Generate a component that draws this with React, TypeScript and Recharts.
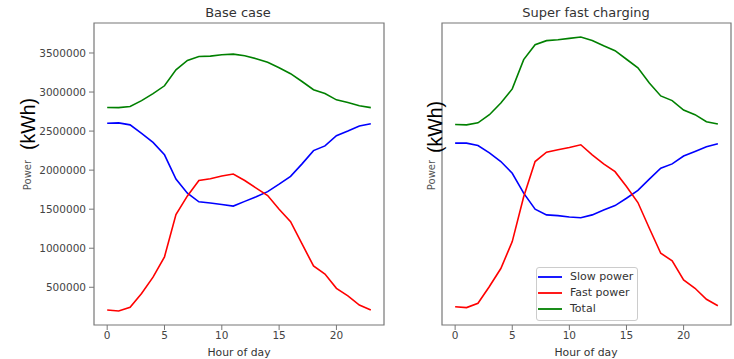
import { LineChart, Line, XAxis, YAxis, ReferenceArea, Legend } from 'recharts';

// hours 0..23
const hours = [0, 1, 2, 3, 4, 5, 6, 7, 8, 9, 10, 11, 12, 13, 14, 15, 16, 17, 18, 19, 20, 21, 22, 23];

// Base case (kWh)
const baseSlow = [
  2600000, 2605000, 2580000, 2470000, 2355000, 2196000, 1885000, 1705000, 1594000, 1580000, 1560000, 1540000,
  1600000, 1660000, 1725000, 1820000, 1920000, 2080000, 2250000, 2310000, 2440000, 2500000, 2565000, 2595000,
];
const baseFast = [
  209000, 196000, 245000, 420000, 630000, 890000, 1430000, 1670000, 1867000, 1890000, 1925000, 1950000,
  1867000, 1770000, 1675000, 1500000, 1340000, 1055000, 773000, 670000, 487000, 390000, 273000, 210000,
];
const baseTotal = [
  2802000, 2800000, 2815000, 2890000, 2980000, 3080000, 3285000, 3405000, 3455000, 3460000, 3478000, 3485000,
  3465000, 3427000, 3380000, 3310000, 3235000, 3135000, 3030000, 2980000, 2900000, 2867000, 2825000, 2800000,
];

// Super fast charging (kWh)
const superSlow = [
  2346000, 2346000, 2315000, 2220000, 2110000, 1960000, 1705000, 1500000, 1427000, 1418000, 1400000, 1390000,
  1427000, 1490000, 1546000, 1640000, 1740000, 1885000, 2025000, 2080000, 2180000, 2240000, 2300000, 2337000,
];
const superFast = [
  250000, 240000, 295000, 510000, 740000, 1085000, 1660000, 2110000, 2230000, 2260000, 2290000, 2325000,
  2196000, 2080000, 1980000, 1790000, 1585000, 1256000, 936000, 840000, 594000, 487000, 346000, 264000,
];
const superTotal = [
  2585000, 2580000, 2606000, 2710000, 2860000, 3040000, 3415000, 3606000, 3658000, 3670000, 3687000, 3705000,
  3660000, 3593000, 3530000, 3420000, 3310000, 3115000, 2950000, 2890000, 2770000, 2710000, 2620000, 2590000,
];

const seriesNames = ['Slow power', 'Fast power', 'Total'];
const xTicks = [0, 5, 10, 15, 20];
const yTicks = [500000, 1000000, 1500000, 2000000, 2500000, 3000000, 3500000];

const X_DOMAIN: [number, number] = [-1.15, 24.15];
const Y_DOMAIN: [number, number] = [17000, 3884000];

const FONT = '"DejaVu Sans", sans-serif';
const FRAME = '#777';
const TICK_TEXT = '#444';

const baseData = hours.map((h, i) => ({ hour: h, slow: baseSlow[i], fast: baseFast[i], total: baseTotal[i] }));
const superData = hours.map((h, i) => ({ hour: h, slow: superSlow[i], fast: superFast[i], total: superTotal[i] }));

function LegendBox(props: any) {
  // keep the plotting order, not alphabetical
  const payload = [...(props.payload || [])].sort(
    (a: any, b: any) => seriesNames.indexOf(a.value) - seriesNames.indexOf(b.value)
  );
  return (
    <div
      style={{
        border: '1px solid #ccc',
        borderRadius: 3,
        background: 'rgba(255,255,255,0.8)',
        padding: '1px 4px 3px 1px',
        fontFamily: FONT,
        fontSize: 11,
        color: '#333',
      }}
    >
      {payload.map((p: any) => (
        <div key={p.value} style={{ display: 'flex', alignItems: 'center', height: 16, lineHeight: '16px' }}>
          <svg width={24} height={16} style={{ marginRight: 8 }}>
            <line x1={0} y1={8} x2={24} y2={8} stroke={p.color} strokeWidth={1.8} />
          </svg>
          <span>{p.value}</span>
        </div>
      ))}
    </div>
  );
}

function Panel({ data, left, width, axisWidth, right, showLabels, showLegend }: any) {
  return (
    <div style={{ position: 'absolute', left, top: 0 }}>
      <LineChart width={width} height={359} data={data} margin={{ top: 23, right, bottom: 0, left: 0 }}>
        <XAxis
          dataKey="hour"
          type="number"
          domain={X_DOMAIN}
          ticks={xTicks}
          allowDataOverflow
          height={34}
          axisLine={false}
          tickSize={5}
          tickMargin={2}
          tickLine={{ stroke: FRAME }}
          tick={{ fontSize: 10.5, fill: TICK_TEXT, fontFamily: FONT }}
        />
        <YAxis
          type="number"
          domain={Y_DOMAIN}
          ticks={yTicks}
          allowDataOverflow
          width={axisWidth}
          axisLine={false}
          tickSize={5}
          tickMargin={3}
          tickLine={{ stroke: FRAME }}
          tick={showLabels ? { fontSize: 10.5, fill: TICK_TEXT, fontFamily: FONT } : false}
        />
        <ReferenceArea
          x1={X_DOMAIN[0]}
          x2={X_DOMAIN[1]}
          y1={Y_DOMAIN[0]}
          y2={Y_DOMAIN[1]}
          fill="none"
          stroke={FRAME}
          strokeWidth={1.2}
        />
        <Line type="linear" dataKey="slow" name={seriesNames[0]} stroke="#0000ff" strokeWidth={1.6} dot={false} isAnimationActive={false} />
        <Line type="linear" dataKey="fast" name={seriesNames[1]} stroke="#ff0000" strokeWidth={1.6} dot={false} isAnimationActive={false} />
        <Line type="linear" dataKey="total" name={seriesNames[2]} stroke="#008000" strokeWidth={1.6} dot={false} isAnimationActive={false} />
        {showLegend && (
          <Legend
            layout="vertical"
            align="center"
            verticalAlign="middle"
            content={<LegendBox />}
            wrapperStyle={{ position: 'absolute', left: 166, top: 267, width: 'auto' }}
          />
        )}
      </LineChart>
    </div>
  );
}

export default function App() {
  return (
    <div style={{ position: 'absolute', left: 0, top: 0, width: 734, height: 359, background: '#fff' }}>
      <Panel data={baseData} left={0} width={390} axisWidth={94} right={6} showLabels showLegend={false} />
      <Panel data={superData} left={370} width={364} axisWidth={72} right={3} showLabels={false} showLegend />
      <svg width={734} height={359} style={{ position: 'absolute', left: 0, top: 0, pointerEvents: 'none' }}>
        <g fontFamily={FONT} fill="#333">
          <text x={238} y={12.5} fontSize={13} textAnchor="middle" dominantBaseline="central">Base case</text>
          <text x={586} y={12.5} fontSize={13} textAnchor="middle" dominantBaseline="central">Super fast charging</text>
          <text x={239} y={352.5} fontSize={10.8} textAnchor="middle" dominantBaseline="central">Hour of day</text>
          <text x={586} y={352.5} fontSize={10.8} textAnchor="middle" dominantBaseline="central">Hour of day</text>
          <text x={27} y={175} fontSize={10} fill="#555" textAnchor="middle" dominantBaseline="central" transform="rotate(-90 27 175)">Power</text>
          <text x={431} y={175} fontSize={10} fill="#555" textAnchor="middle" dominantBaseline="central" transform="rotate(-90 431 175)">Power</text>
        </g>
        <g fontFamily='"Liberation Sans", Arial, sans-serif' fill="#000">
          <text x={28} y={124} fontSize={19.5} textAnchor="middle" dominantBaseline="central" transform="rotate(-90 28 124)">(kWh)</text>
          <text x={435} y={127} fontSize={19.5} textAnchor="middle" dominantBaseline="central" transform="rotate(-90 435 127)">(kWh)</text>
        </g>
      </svg>
    </div>
  );
}
